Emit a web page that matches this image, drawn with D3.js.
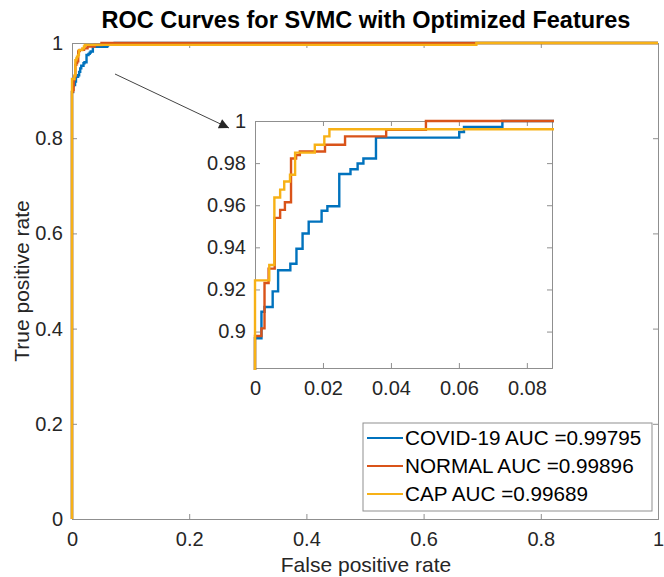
<!DOCTYPE html>
<html>
<head>
<meta charset="utf-8">
<script src="https://cdn.jsdelivr.net/npm/d3@7"></script>
<style>
  body { margin: 0; background: #fff; }
  svg { font-family: "Liberation Sans", Arial, sans-serif; }
</style>
</head>
<body>
<svg id="chart" width="664" height="577"></svg>
<script>
// ROC points (fpr, tpr), step corners
const covidFpr = [0, 0, 0.0019, 0.0028, 0.0052, 0.0068, 0.0104, 0.0122, 0.0140, 0.0158, 0.0196, 0.0213, 0.0248, 0.0281, 0.0302, 0.0319, 0.0356, 0.0601, 0.0615, 0.0728, 1]
const covidTpr = [0, 0.8968, 0.9094, 0.9117, 0.9191, 0.9291, 0.9322, 0.9393, 0.9466, 0.9522, 0.9574, 0.9595, 0.9748, 0.9771, 0.9798, 0.9822, 0.9921, 0.9948, 0.9972, 1, 1]

const normalFpr = [0, 0, 0.0019, 0.0028, 0.0040, 0.0058, 0.0074, 0.0088, 0.0106, 0.0121, 0.0132, 0.0206, 0.0265, 0.0386, 0.0503, 1]
const normalTpr = [0, 0.8979, 0.9015, 0.9231, 0.9299, 0.9540, 0.9578, 0.9614, 0.9822, 0.9838, 0.9855, 0.9887, 0.9927, 0.9958, 1, 1]

const capFpr = [0, 0, 0.0042, 0.0057, 0.0074, 0.0086, 0.0103, 0.0118, 0.0176, 0.0204, 0.0219, 0.69, 1]
const capTpr = [0, 0.9243, 0.9316, 0.9637, 0.9674, 0.9713, 0.9745, 0.9850, 0.9887, 0.9927, 0.9961, 1, 1]

const seriesNames = ['COVID-19', 'NORMAL', 'CAP']
const aucValues = ['0.99795', '0.99896', '0.99689']
const seriesColors = ['#0072BD', '#D95319', '#F7B116']

const mainTicks = [0, 0.2, 0.4, 0.6, 0.8, 1]
const insetXTicks = [0, 0.02, 0.04, 0.06, 0.08]
const insetYTicks = [0.9, 0.92, 0.94, 0.96, 0.98, 1]

let series = [
  {fpr: covidFpr, tpr: covidTpr},
  {fpr: normalFpr, tpr: normalTpr},
  {fpr: capFpr, tpr: capTpr}
].map((s, i) => ({
  name: seriesNames[i],
  auc: aucValues[i],
  color: seriesColors[i],
  points: s.fpr.map((f, j) => [f, s.tpr[j]])
}))

let svg = d3.select('#chart')
let axisColor = '#8f8f8f'
let textColor = '#262626'

// main axes
let x = d3.scaleLinear().domain([0, 1]).range([72, 658])
let y = d3.scaleLinear().domain([0, 1]).range([519, 43])

function drawAxes(g, xs, ys, xt, yt, xfmt, yfmt) {
  let [x0, x1] = xs.range()
  let [y0, y1] = ys.range()
  g.append('rect')
    .attr('x', x0).attr('y', y1)
    .attr('width', x1 - x0).attr('height', y0 - y1)
    .attr('fill', '#fff')

  g.append('g')
    .attr('transform', `translate(0,${y0})`)
    .call(d3.axisBottom(xs).tickValues(xt).tickSize(-5).tickPadding(13).tickFormat(xfmt))
  g.append('g')
    .attr('transform', `translate(0,${y1})`)
    .call(d3.axisTop(xs).tickValues(xt).tickSize(-5).tickFormat(''))
  g.append('g')
    .attr('transform', `translate(${x0},0)`)
    .call(d3.axisLeft(ys).tickValues(yt).tickSize(-5).tickPadding(9).tickFormat(yfmt))
  g.append('g')
    .attr('transform', `translate(${x1},0)`)
    .call(d3.axisRight(ys).tickValues(yt).tickSize(-5).tickFormat(''))

  g.selectAll('.domain').attr('stroke', axisColor).attr('stroke-width', 1)
  g.selectAll('.tick line').attr('stroke', axisColor)
  g.selectAll('.tick text')
    .attr('fill', textColor)
    .style('font-size', '20px')
    .style('font-family', '"Liberation Sans", Arial, sans-serif')
}

function drawCurves(g, xs, ys, clipId) {
  let [x0, x1] = xs.range()
  let [y0, y1] = ys.range()
  g.append('clipPath').attr('id', clipId)
    .append('rect')
    .attr('x', x0 - 2).attr('y', y1 - 2)
    .attr('width', x1 - x0 + 4).attr('height', y0 - y1 + 4)

  let line = d3.line()
    .x(d => xs(d[0]))
    .y(d => ys(d[1]))
    .curve(d3.curveStepAfter)

  g.append('g').attr('clip-path', `url(#${clipId})`)
    .selectAll('path')
    .data(series)
    .enter().append('path')
    .attr('d', d => line(d.points))
    .attr('fill', 'none')
    .attr('stroke', d => d.color)
    .attr('stroke-width', 2.4)
}

let fmt = d => d3.format('~g')(d)

let mainG = svg.append('g')
drawAxes(mainG, x, y, mainTicks, mainTicks, fmt, fmt)
drawCurves(mainG, x, y, 'clipMain')
mainG.selectAll('.domain').raise()

// title and labels
svg.append('text')
  .attr('x', 366).attr('y', 28)
  .attr('text-anchor', 'middle')
  .attr('fill', '#000')
  .style('font-size', '23.5px')
  .style('font-weight', 'bold')
  .text('ROC Curves for SVMC with Optimized Features')

svg.append('text')
  .attr('x', 366).attr('y', 572)
  .attr('text-anchor', 'middle')
  .attr('fill', textColor)
  .style('font-size', '21px')
  .text('False positive rate')

svg.append('text')
  .attr('transform', 'translate(29,281) rotate(-90)')
  .attr('text-anchor', 'middle')
  .attr('fill', textColor)
  .style('font-size', '21px')
  .text('True positive rate')

// arrow pointing to the zoomed-in inset
svg.append('defs').append('marker')
  .attr('id', 'arrowHead')
  .attr('viewBox', '0 0 10 10')
  .attr('refX', 10).attr('refY', 5)
  .attr('markerWidth', 14).attr('markerHeight', 10)
  .attr('markerUnits', 'userSpaceOnUse')
  .attr('orient', 'auto')
  .append('path')
  .attr('d', 'M0,0 L10,5 L0,10 Z')
  .attr('fill', '#262626')

svg.append('line')
  .attr('x1', 115).attr('y1', 74)
  .attr('x2', 229).attr('y2', 128)
  .attr('stroke', '#444')
  .attr('stroke-width', 1)
  .attr('marker-end', 'url(#arrowHead)')

// inset
let xi = d3.scaleLinear().domain([0, 0.0874]).range([255, 552])
let yi = d3.scaleLinear().domain([0.8827, 1]).range([368, 121])
let insetG = svg.append('g')
drawAxes(insetG, xi, yi, insetXTicks, insetYTicks, fmt, fmt)
drawCurves(insetG, xi, yi, 'clipInset')
insetG.selectAll('.domain').raise()

// legend
let legend = svg.append('g')
legend.append('rect')
  .attr('x', 363).attr('y', 423)
  .attr('width', 289).attr('height', 88)
  .attr('fill', '#fff')
  .attr('stroke', axisColor)

let rows = legend.selectAll('.row')
  .data(series)
  .enter().append('g')
  .attr('class', 'row')
  .attr('transform', (d, i) => `translate(0,${438 + i * 28})`)

rows.append('line')
  .attr('x1', 367).attr('x2', 403)
  .attr('stroke', d => d.color)
  .attr('stroke-width', 2)

rows.append('text')
  .attr('x', 405).attr('y', 7)
  .attr('fill', '#000')
  .style('font-size', '20.7px')
  .text(d => `${d.name} AUC =${d.auc}`)
</script>
</body>
</html>
